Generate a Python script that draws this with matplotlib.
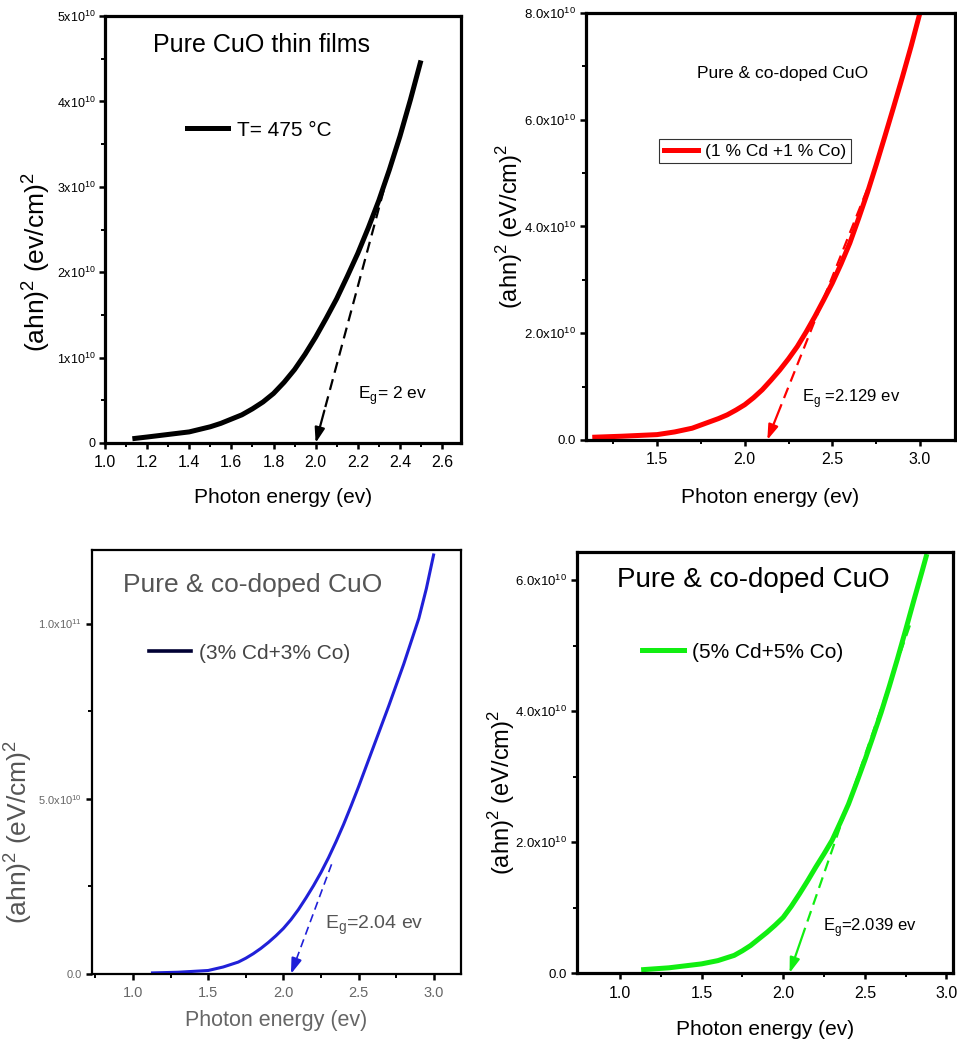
import numpy as np
import matplotlib
matplotlib.use('Agg')
import matplotlib.pyplot as plt

plt.rcParams['font.family'] = ['Liberation Sans', 'DejaVu Sans']

# ---- data (values in units of 1e10) ----
x1 = [1.13, 1.2, 1.3, 1.4, 1.45, 1.5, 1.55, 1.6, 1.65, 1.7, 1.75, 1.8, 1.85, 1.9, 1.95,
      2.0, 2.05, 2.1, 2.15, 2.2, 2.25, 2.3, 2.35, 2.4, 2.45, 2.5]
y1 = [0.05, 0.07, 0.10, 0.13, 0.16, 0.19, 0.23, 0.28, 0.33, 0.40, 0.48, 0.58, 0.71, 0.86, 1.04,
      1.24, 1.46, 1.69, 1.95, 2.22, 2.52, 2.84, 3.20, 3.59, 4.02, 4.48]

x2 = [1.13, 1.3, 1.5, 1.6, 1.7, 1.75, 1.8, 1.85, 1.9, 1.95, 2.0, 2.05, 2.1, 2.15, 2.2, 2.25,
      2.3, 2.35, 2.4, 2.45, 2.5, 2.55, 2.6, 2.65, 2.7, 2.75, 2.8, 2.85, 2.9, 2.95, 3.0]
y2 = [0.05, 0.07, 0.10, 0.15, 0.22, 0.28, 0.34, 0.40, 0.47, 0.56, 0.66, 0.79, 0.94, 1.12, 1.31, 1.52,
      1.75, 2.02, 2.31, 2.62, 2.94, 3.30, 3.69, 4.15, 4.63, 5.15, 5.69, 6.24, 6.80, 7.38, 8.0]

x3 = [1.12, 1.3, 1.5, 1.6, 1.7, 1.75, 1.8, 1.85, 1.9, 1.95, 2.0, 2.05, 2.1, 2.15, 2.2, 2.25,
      2.3, 2.35, 2.4, 2.45, 2.5, 2.6, 2.7, 2.8, 2.9, 2.95, 3.0]
y3 = [0.03, 0.05, 0.10, 0.20, 0.34, 0.45, 0.58, 0.73, 0.90, 1.09, 1.30, 1.55, 1.84, 2.17, 2.52, 2.90,
      3.32, 3.78, 4.27, 4.80, 5.35, 6.50, 7.65, 8.85, 10.15, 11.0, 12.0]

x4 = [1.13, 1.3, 1.5, 1.6, 1.7, 1.75, 1.8, 1.85, 1.9, 1.95, 2.0, 2.05, 2.1, 2.15, 2.2, 2.25,
      2.3, 2.35, 2.4, 2.45, 2.5, 2.55, 2.6, 2.65, 2.7, 2.75, 2.8, 2.85, 2.88]
y4 = [0.05, 0.08, 0.14, 0.19, 0.27, 0.34, 0.42, 0.52, 0.62, 0.73, 0.85, 1.02, 1.21, 1.41, 1.62, 1.82,
      2.03, 2.30, 2.58, 2.91, 3.25, 3.61, 3.98, 4.38, 4.80, 5.24, 5.69, 6.13, 6.40]

# band gap (x-intercept) and upper end of the tangent line
eg = [2.0, 2.129, 2.05, 2.039]
tan_top = [(2.345, 3.16), (2.736, 5.0), (2.32, 3.13), (2.776, 5.31)]

labels = ['T= 475 °C', '(1 % Cd +1 % Co)', '(3% Cd+3% Co)', '(5% Cd+5% Co)']
titles = ['Pure CuO thin films', 'Pure & co-doped CuO', 'Pure & co-doped CuO', 'Pure & co-doped CuO']
eg_text = [r'E$_\mathregular{g}$= 2 ev', r'E$_\mathregular{g}$ =2.129 ev',
           r'E$_\mathregular{g}$=2.04 ev', r'E$_\mathregular{g}$=2.039 ev']

yt1 = [0, 1, 2, 3, 4, 5]
yl1 = ['0'] + [r'$\mathregular{%dx10^{10}}$' % v for v in yt1[1:]]
yt2 = [0, 2, 4, 6, 8]
yl2 = ['0.0'] + [r'$\mathregular{%.1fx10^{10}}$' % v for v in yt2[1:]]
yt3 = [0, 5, 10]
yl3 = ['0.0', r'$\mathregular{5.0x10^{10}}$', r'$\mathregular{1.0x10^{11}}$']
yt4 = [0, 2, 4, 6]
yl4 = ['0.0'] + [r'$\mathregular{%.1fx10^{10}}$' % v for v in yt4[1:]]

fig = plt.figure(figsize=(9.57, 10.49), dpi=100)

panels = [
    dict(pos=[0.1097, 0.5777, 0.372, 0.407], x=x1, y=y1, c='black', lw=3.6, xlim=(1.0, 2.69), ylim=(0, 5),
         xt=np.arange(1.0, 2.61, 0.2), xm=np.arange(1.1, 2.7, 0.2), yt=yt1, yl=yl1, ym=np.arange(0.5, 5, 1.0),
         tcol='black', spw=2.3,
         leg=(0.433, 0.733), legfs=15, legframe=False, legc='black',
         tit=(0.441, 0.932), titfs=18, egpos=(0.711, 0.112), egfs=12.5,
         ylab=r'(ahn)$^\mathregular{2}$ (ev/cm)$^\mathregular{2}$', ylabpos=(-0.196, 0.424), ylabfs=19,
         xlabpos=(0.5, -0.105), tickfs=11.5, ytickfs=9),
    dict(pos=[0.6123, 0.5806, 0.3856, 0.4071], x=x2, y=y2, c='#ff0000', lw=3.6, xlim=(1.094, 3.2), ylim=(0, 8),
         xt=[1.5, 2.0, 2.5, 3.0], xm=[1.25, 1.75, 2.25, 2.75], yt=yt2, yl=yl2, ym=[1, 3, 5, 7],
         tcol='black', spw=2.3,
         leg=(0.458, 0.676), legfs=12.5, legframe=True, legc='#ff0000',
         tit=(0.534, 0.859), titfs=12.5, egpos=(0.585, 0.098), egfs=12,
         ylab=r'(ahn)$^\mathregular{2}$ (eV/cm)$^\mathregular{2}$', ylabpos=(-0.208, 0.499), ylabfs=17,
         xlabpos=(0.5, -0.112), tickfs=11.5, ytickfs=9.5),
    dict(pos=[0.0961, 0.0715, 0.3856, 0.4042], x=x3, y=y3, c='#2020d8', lw=2.2, xlim=(0.728, 3.18), ylim=(0, 12.1),
         xt=[1.0, 1.5, 2.0, 2.5, 3.0], xm=[0.75, 1.25, 1.75, 2.25, 2.75], yt=yt3, yl=yl3, ym=[2.5, 7.5],
         tcol='#666666', spw=1.6,
         leg=(0.428, 0.757), legfs=15, legframe=False, legc='#000033',
         tit=(0.436, 0.917), titfs=19, egpos=(0.631, 0.116), egfs=14,
         ylab=r'(ahn)$^\mathregular{2}$ (eV/cm)$^\mathregular{2}$', ylabpos=(-0.203, 0.335), ylabfs=19,
         xlabpos=(0.5, -0.085), tickfs=10.5, ytickfs=8),
    dict(pos=[0.6029, 0.0724, 0.3929, 0.4013], x=x4, y=y4, c='#11ee11', lw=3.6, xlim=(0.737, 3.04), ylim=(0, 6.43),
         xt=[1.0, 1.5, 2.0, 2.5, 3.0], xm=[1.25, 1.75, 2.25, 2.75], yt=yt4, yl=yl4, ym=[1, 3, 5],
         tcol='black', spw=2.3,
         leg=(0.441, 0.762), legfs=15, legframe=False, legc='#11ee11',
         tit=(0.468, 0.933), titfs=20, egpos=(0.654, 0.109), egfs=12,
         ylab=r'(ahn)$^\mathregular{2}$ (eV/cm)$^\mathregular{2}$', ylabpos=(-0.2, 0.43), ylabfs=17,
         xlabpos=(0.5, -0.112), tickfs=11.5, ytickfs=9.5),
]

for i, p in enumerate(panels):
    ax = fig.add_axes(p['pos'])
    tc = p['tcol']
    ax.plot(p['x'], p['y'], color=p['c'], lw=p['lw'], solid_capstyle='butt', solid_joinstyle='round')

    # tangent line + arrow to the band gap
    xt_, yt_ = tan_top[i]
    dcol = p['c']
    frac = 0.12
    xa = eg[i] + (xt_ - eg[i]) * frac
    ya = yt_ * frac
    ax.plot([xt_, xa], [yt_, ya], color=dcol, lw=1.6 if i != 2 else 1.2, ls=(0, (5, 3)))
    ax.annotate('', xy=(eg[i], 0), xytext=(xa, ya),
                arrowprops=dict(arrowstyle='-|>,head_length=0.9,head_width=0.3', color=dcol,
                                lw=1.6, shrinkA=0, shrinkB=0))

    ax.set_xlim(*p['xlim'])
    ax.set_ylim(*p['ylim'])
    ax.set_xticks(p['xt'])
    ax.set_xticklabels(['%.1f' % v for v in p['xt']])
    ax.set_xticks(p['xm'], minor=True)
    ax.set_yticks(p['yt'])
    ax.set_yticklabels(p['yl'])
    ax.set_yticks(p['ym'], minor=True)
    ax.tick_params(which='major', direction='out', length=4, width=1.8, colors='black',
                   labelcolor=tc, labelsize=p['tickfs'], pad=5)
    ax.tick_params(axis='y', which='major', labelsize=p['ytickfs'], pad=3)
    ax.tick_params(which='minor', direction='out', length=3, width=1.4)
    for s in ax.spines.values():
        s.set_linewidth(p['spw'])

    ax.set_xlabel('Photon energy (ev)', fontsize=15 if i != 2 else 15.5,
                  color=tc if i == 2 else 'black', va='top')
    ax.xaxis.set_label_coords(*p['xlabpos'])
    ax.set_ylabel(p['ylab'], fontsize=p['ylabfs'], color='#555555' if i == 2 else 'black', va='center')
    ax.yaxis.set_label_coords(*p['ylabpos'])

    ax.text(*p['tit'], titles[i], transform=ax.transAxes, ha='center', va='center',
            fontsize=p['titfs'], color='#555555' if i == 2 else 'black')
    ax.text(*p['egpos'], eg_text[i], transform=ax.transAxes, ha='left', va='center',
            fontsize=p['egfs'], color='#555555' if i == 2 else 'black')

    h, = ax.plot([], [], color=p['legc'], lw=3.6 if i != 2 else 2.6)
    leg = ax.legend([h], [labels[i]], loc='center', bbox_to_anchor=p['leg'], fontsize=p['legfs'],
                    frameon=p['legframe'], fancybox=False, handlelength=2.0, handletextpad=0.4,
                    borderpad=0.25, labelcolor='#444444' if i == 2 else 'black')
    if p['legframe']:
        leg.get_frame().set_edgecolor('black')
        leg.get_frame().set_linewidth(0.8)

fig.savefig('out.png', dpi=100)
